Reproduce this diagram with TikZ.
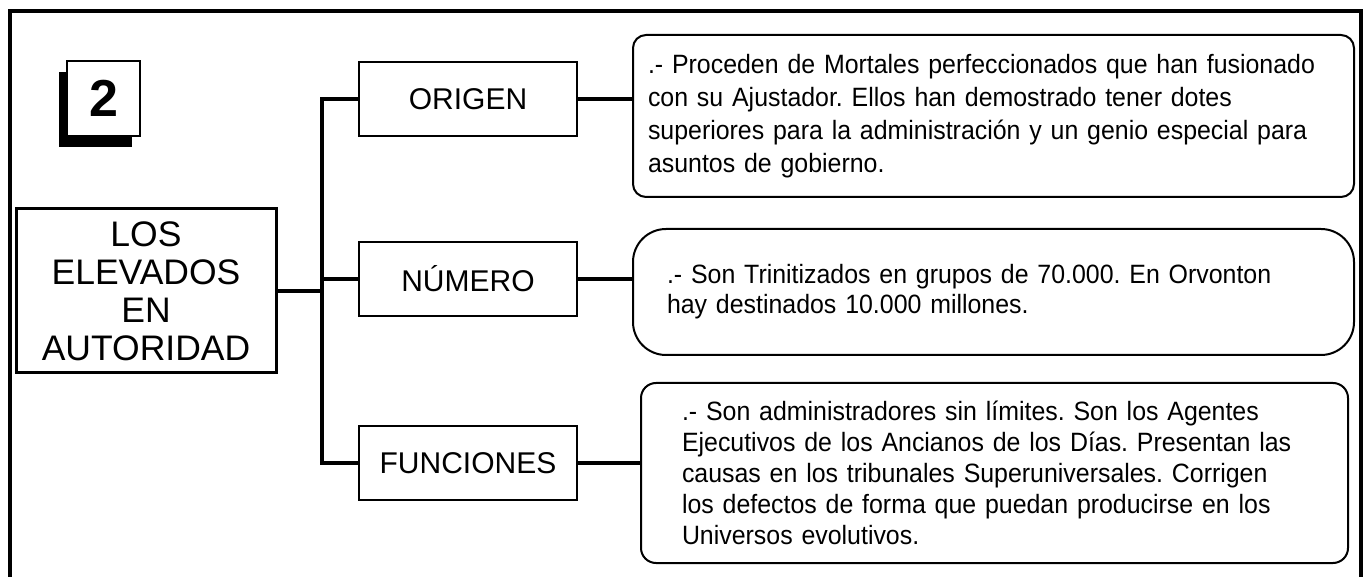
\documentclass[tikz,border=0pt]{standalone}
\usepackage{fontspec}
\setmainfont{Liberation Sans}
\newfontfamily\narrowfont[FakeStretch=0.94]{Liberation Sans}
\usetikzlibrary{shadows}
\begin{document}
\frenchspacing
\begin{tikzpicture}[x=1pt,y=-1pt,
  frameline/.style={line width=3.5pt},
  conn/.style={line width=3.5pt},
  smallbox/.style={draw, line width=1.4pt, minimum width=218pt, minimum height=74pt, inner sep=0pt, font=\fontsize{30}{36}\selectfont},
  mainbox/.style={draw, line width=3pt, minimum width=260pt, minimum height=164pt, inner sep=0pt, align=center, font=\fontsize{35.5}{38}\selectfont},
  infobox/.style={draw, line width=2pt, align=left, inner ysep=0pt, font=\narrowfont\fontsize{26.5}{33}\selectfont},
  numbox/.style={draw, line width=1.4pt, fill=white, minimum width=73pt, minimum height=75pt, inner sep=0pt,
     font=\bfseries\fontsize{52}{52}\selectfont,
     general shadow={fill=black, shadow xshift=-8pt, shadow yshift=-11pt}}
]
\useasboundingbox (0,0) rectangle (1366,577);
\fill[white] (0,0) rectangle (1366,577);

% outer frame (open at the bottom)
\draw[frameline] (10,577) -- (10,11) -- (1361,11) -- (1361,577);

% number box
\node[numbox] (two) at (103.5,98.5) {2};

% main node
\node[mainbox] (main) at (146,291) {LOS\\ELEVADOS\\EN\\AUTORIDAD};

% category boxes
\node[smallbox] (origen) at (468,99) {ORIGEN};
\node[smallbox] (numero) at (468,279) {NÚMERO};
\node[smallbox] (funciones) at (468,463) {FUNCIONES};

% description boxes
\node[infobox, rounded corners=13pt, minimum height=162pt, inner xsep=15pt, text width=691pt] (box1) at (993.5,116)
 {.- Proceden de Mortales perfeccionados que han fusionado\\
  con su Ajustador. Ellos han demostrado tener dotes\\
  superiores para la administración y un genio especial para\\
  asuntos de gobierno.};
\node[infobox, rounded corners=33pt, minimum height=126pt, inner xsep=34pt, text width=653pt, font=\narrowfont\fontsize{26.5}{30}\selectfont] (box2) at (993.5,292)
 {.- Son Trinitizados en grupos de 70.000. En Orvonton\\
  hay destinados 10.000 millones.};
\node[infobox, rounded corners=15pt, minimum height=180pt, inner xsep=41pt, text width=625pt, font=\narrowfont\fontsize{26.5}{31}\selectfont] (box3) at (994.5,473)
 {.- Son administradores sin límites. Son los Agentes\\
  Ejecutivos de los Ancianos de los Días. Presentan las\\
  causas en los tribunales Superuniversales. Corrigen\\
  los defectos de forma que puedan producirse en los\\
  Universos evolutivos.};

% connectors
\coordinate (sp) at (322,0);
\draw[conn] (main.east) -- (main.east -| sp);
\draw[conn] (origen.west) -- (origen.west -| sp) -- (funciones.west -| sp) -- (funciones.west);
\draw[conn] (numero.west) -- (numero.west -| sp);
\draw[conn] (origen.east) -- (origen.east -| box1.west);
\draw[conn] (numero.east) -- (numero.east -| box2.west);
\draw[conn] (funciones.east) -- (funciones.east -| box3.west);
\end{tikzpicture}
\end{document}
